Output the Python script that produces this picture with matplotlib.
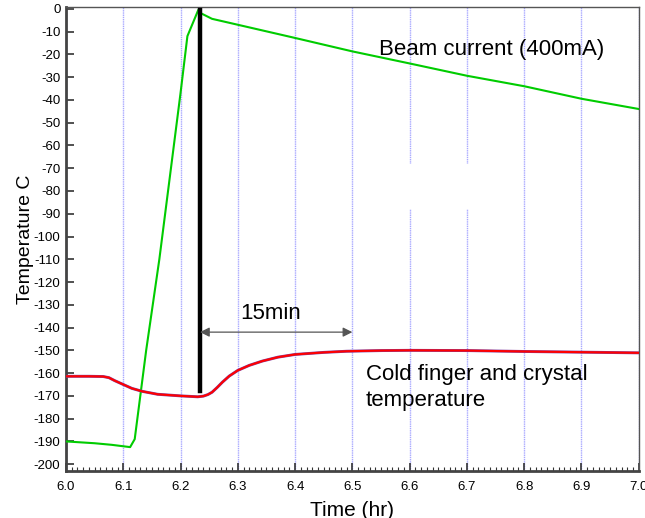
import numpy as np
import matplotlib.pyplot as plt
from matplotlib.ticker import MultipleLocator, FormatStrFormatter
from matplotlib.patches import Rectangle

plt.rcParams['font.family'] = ['Liberation Sans', 'DejaVu Sans']
plt.rcParams['axes.unicode_minus'] = False

# beam current trace (scaled to the temperature axis)
beam_t = [6.0, 6.05, 6.08, 6.112, 6.12, 6.14, 6.163, 6.2, 6.212, 6.231,
          6.236, 6.255, 6.3, 6.4, 6.5, 6.6, 6.7, 6.8, 6.9, 7.0]
beam_v = [-190, -190.8, -191.5, -192.5, -189, -150, -110, -37, -12, -0.5,
          -2, -4.4, -7, -12.8, -18.7, -24, -29.4, -34, -39.5, -44]

# cold finger / crystal temperature
cold_t = [6.0, 6.04, 6.065, 6.075, 6.085, 6.1, 6.115, 6.133, 6.16, 6.2, 6.23, 6.24,
          6.248, 6.255, 6.264, 6.273, 6.285, 6.3, 6.32, 6.343, 6.37, 6.4, 6.45,
          6.49, 6.55, 6.6, 6.7, 6.8, 6.9, 7.0]
cold_v = [-161.4, -161.4, -161.5, -162.0, -163.3, -165, -166.7, -168, -169.3, -170, -170.4, -170.1,
          -169.4, -168.4, -166.3, -164, -161.3, -158.8, -156.6, -154.7, -153.0, -151.8, -150.9,
          -150.4, -150.1, -150, -150.1, -150.5, -150.8, -151.1]

beam_on = 6.234
arrow_end = 6.5

fig = plt.figure(figsize=(6.45, 5.18), dpi=100)
ax = fig.add_axes([0.1023, 0.0907, 0.888, 0.8958])

for x in np.arange(6.0, 7.01, 0.1):
    ax.axvline(x, color='#a8a8ff', lw=1.0, ls=(0, (1, 0.6)), zorder=0)
# blank patch over the grid (as in the original)
ax.add_patch(Rectangle((6.58, -88), 0.14, 20, color='white', zorder=0.5, lw=0))

ax.plot(beam_t, beam_v, color='#00cc00', lw=1.5, zorder=3)
ax.plot(cold_t, cold_v, color='#8040a0', lw=2.1, zorder=3)
ax.plot(cold_t, cold_v, color='#ff0000', lw=1.5, zorder=4)

ax.plot([beam_on, beam_on], [-0.5, -168], color='black', lw=3.2, zorder=5)
ax.annotate('', xy=(arrow_end, -142), xytext=(beam_on, -142),
            arrowprops=dict(arrowstyle='<|-|>', color='#555555', lw=0.9,
                            mutation_scale=14, shrinkA=0, shrinkB=0), zorder=5)
ax.text(6.358, -134, '15min', fontsize=16, ha='center', va='center')
ax.text(6.547, -17.8, 'Beam current (400mA)', fontsize=16, ha='left', va='center')
ax.text(6.523, -156, 'Cold finger and crystal\ntemperature', fontsize=16,
        ha='left', va='top', linespacing=1.32)

ax.set_xlim(6.0, 7.0)
ax.set_ylim(-203, 0.8)
ax.xaxis.set_major_locator(MultipleLocator(0.1))
ax.xaxis.set_minor_locator(MultipleLocator(0.01))
ax.xaxis.set_major_formatter(FormatStrFormatter('%.1f'))
ax.yaxis.set_major_locator(MultipleLocator(10))
ax.tick_params(which='major', direction='in', length=6, width=1.2, labelsize=9.5,
               colors='#333333', labelcolor='black')
ax.tick_params(which='minor', direction='in', length=3, width=0.8, colors='#333333')
ax.tick_params(axis='x', pad=7)
ax.tick_params(axis='y', pad=4)

for side in ['left', 'bottom']:
    ax.spines[side].set_linewidth(2)
    ax.spines[side].set_color('#444444')
for side in ['top', 'right']:
    ax.spines[side].set_linewidth(1)
    ax.spines[side].set_color('#555555')

ax.set_xlabel('Time (hr)', fontsize=15, labelpad=6)
ax.set_ylabel('Temperature C', fontsize=14, labelpad=0)

fig.savefig('out.png', dpi=100)
